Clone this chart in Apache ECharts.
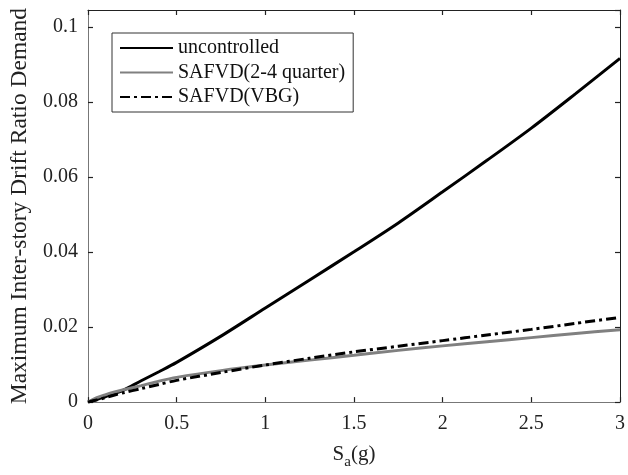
<!DOCTYPE html>
<html>
<head>
<meta charset="utf-8">
<script src="https://cdn.jsdelivr.net/npm/echarts@6/dist/echarts.min.js"></script>
<style>html,body{margin:0;padding:0;background:#fff;}#c{width:628px;height:475px;}</style>
</head>
<body>
<div id="c"></div>
<script>
const seriesNames = ['uncontrolled', 'SAFVD(2-4 quarter)', 'SAFVD(VBG)'];
const xTicks = [0, 0.5, 1, 1.5, 2, 2.5, 3];
const yTicks = [0, 0.02, 0.04, 0.06, 0.08, 0.1];
const sa = [0, 0.05, 0.1, 0.15, 0.2, 0.3, 0.4, 0.5, 0.75, 1.0, 1.25, 1.5, 1.75, 2.0, 2.25, 2.5, 2.75, 3.0];
const uncontrolled = [0, 0.0007, 0.0015, 0.0023, 0.0032, 0.0057, 0.0081, 0.0106, 0.0176, 0.0251, 0.0326, 0.0401, 0.0478, 0.0561, 0.0645, 0.0731, 0.0823, 0.0917];
const safvd24 = [0, 0.0012, 0.0020, 0.0027, 0.0033, 0.0044, 0.0056, 0.0066, 0.0084, 0.0099, 0.0112, 0.0125, 0.0138, 0.0150, 0.0161, 0.0172, 0.0183, 0.0193];
const safvdVBG = [0, 0.0006, 0.0012, 0.0019, 0.0025, 0.0036, 0.0047, 0.0058, 0.0079, 0.0099, 0.0117, 0.0134, 0.0149, 0.0164, 0.0179, 0.0194, 0.0210, 0.0226];

const font = 'Liberation Serif';
const pair = arr => sa.map((x, i) => [x, arr[i]]);
const chart = echarts.init(document.getElementById('c'));
chart.setOption({
  animation: false,
  backgroundColor: '#fff',
  grid: {left: 88, right: 3, top: 10, bottom: 70, containLabel: false},
  legend: {
    left: 112, top: 33, orient: 'vertical',
    data: seriesNames,
    backgroundColor: '#fff',
    borderColor: '#333', borderWidth: 1, borderRadius: 0,
    padding: [5, 8, 5, 7],
    itemWidth: 53, itemHeight: 14, itemGap: 4.5,
    itemStyle: {opacity: 0},
    textStyle: {fontFamily: font, fontSize: 20, color: '#111', lineHeight: 20, padding: [0, 0, 0, 0]}
  },
  xAxis: [{
    type: 'value', min: 0, max: 3, interval: 0.5,
    name: '{s|S}{sub|a}{s|(g)}', nameLocation: 'middle', nameGap: 38,
    nameTextStyle: {fontFamily: font, color: '#222', rich: {
      s: {fontFamily: font, fontSize: 21, color: '#222', lineHeight: 22},
      sub: {fontFamily: font, fontSize: 15, color: '#222', lineHeight: 14, padding: [16, 0, 0, 0]}
    }},
    axisLine: {show: true, onZero: false, lineStyle: {color: '#777', width: 1}},
    axisTick: {show: true, inside: true, length: 5, lineStyle: {color: '#222', width: 1.2}},
    axisLabel: {fontFamily: font, fontSize: 20, color: '#222', margin: 12,
      formatter: v => String(v)},
    splitLine: {show: false}
  }, {
    type: 'value', min: 0, max: 3, interval: 0.5, position: 'top',
    axisLine: {show: true, onZero: false, lineStyle: {color: '#222', width: 1}},
    axisTick: {show: true, inside: true, length: 5, lineStyle: {color: '#222', width: 1.2}},
    axisLabel: {show: false}, splitLine: {show: false}
  }],
  yAxis: [{
    type: 'value', min: 0, max: 0.1046, interval: 0.02,
    name: 'Maximum Inter-story Drift Ratio Demand', nameLocation: 'middle', nameGap: 56,
    nameTextStyle: {fontFamily: font, fontSize: 23.5, color: '#222'},
    axisLine: {show: true, onZero: false, lineStyle: {color: '#777', width: 1}},
    axisTick: {show: true, inside: true, length: 5, lineStyle: {color: '#222', width: 1.2}},
    axisLabel: {fontFamily: font, fontSize: 20, color: '#222', margin: 10, showMaxLabel: false,
      formatter: v => yTicks.some(t => Math.abs(t - v) < 1e-9) ? String(+v.toFixed(4)) : ''},
    splitLine: {show: false}
  }, {
    type: 'value', min: 0, max: 0.1046, interval: 0.02, position: 'right',
    axisLine: {show: true, onZero: false, lineStyle: {color: '#222', width: 1}},
    axisTick: {show: true, inside: true, length: 5, lineStyle: {color: '#222', width: 1.2}},
    axisLabel: {show: false}, splitLine: {show: false}
  }],
  series: [
    {name: seriesNames[0], type: 'line', data: pair(uncontrolled), smooth: 0.3, symbol: 'none',
      lineStyle: {color: '#000', width: 3}, itemStyle: {color: '#000'}},
    {name: seriesNames[1], type: 'line', data: pair(safvd24), smooth: 0.3, symbol: 'none',
      lineStyle: {color: '#808080', width: 3}, itemStyle: {color: '#808080'}},
    {name: seriesNames[2], type: 'line', data: pair(safvdVBG), smooth: 0.3, symbol: 'none',
      lineStyle: {color: '#000', width: 3, type: [10, 4, 3, 4]}, itemStyle: {color: '#000'}}
  ]
});
</script>
</body>
</html>
